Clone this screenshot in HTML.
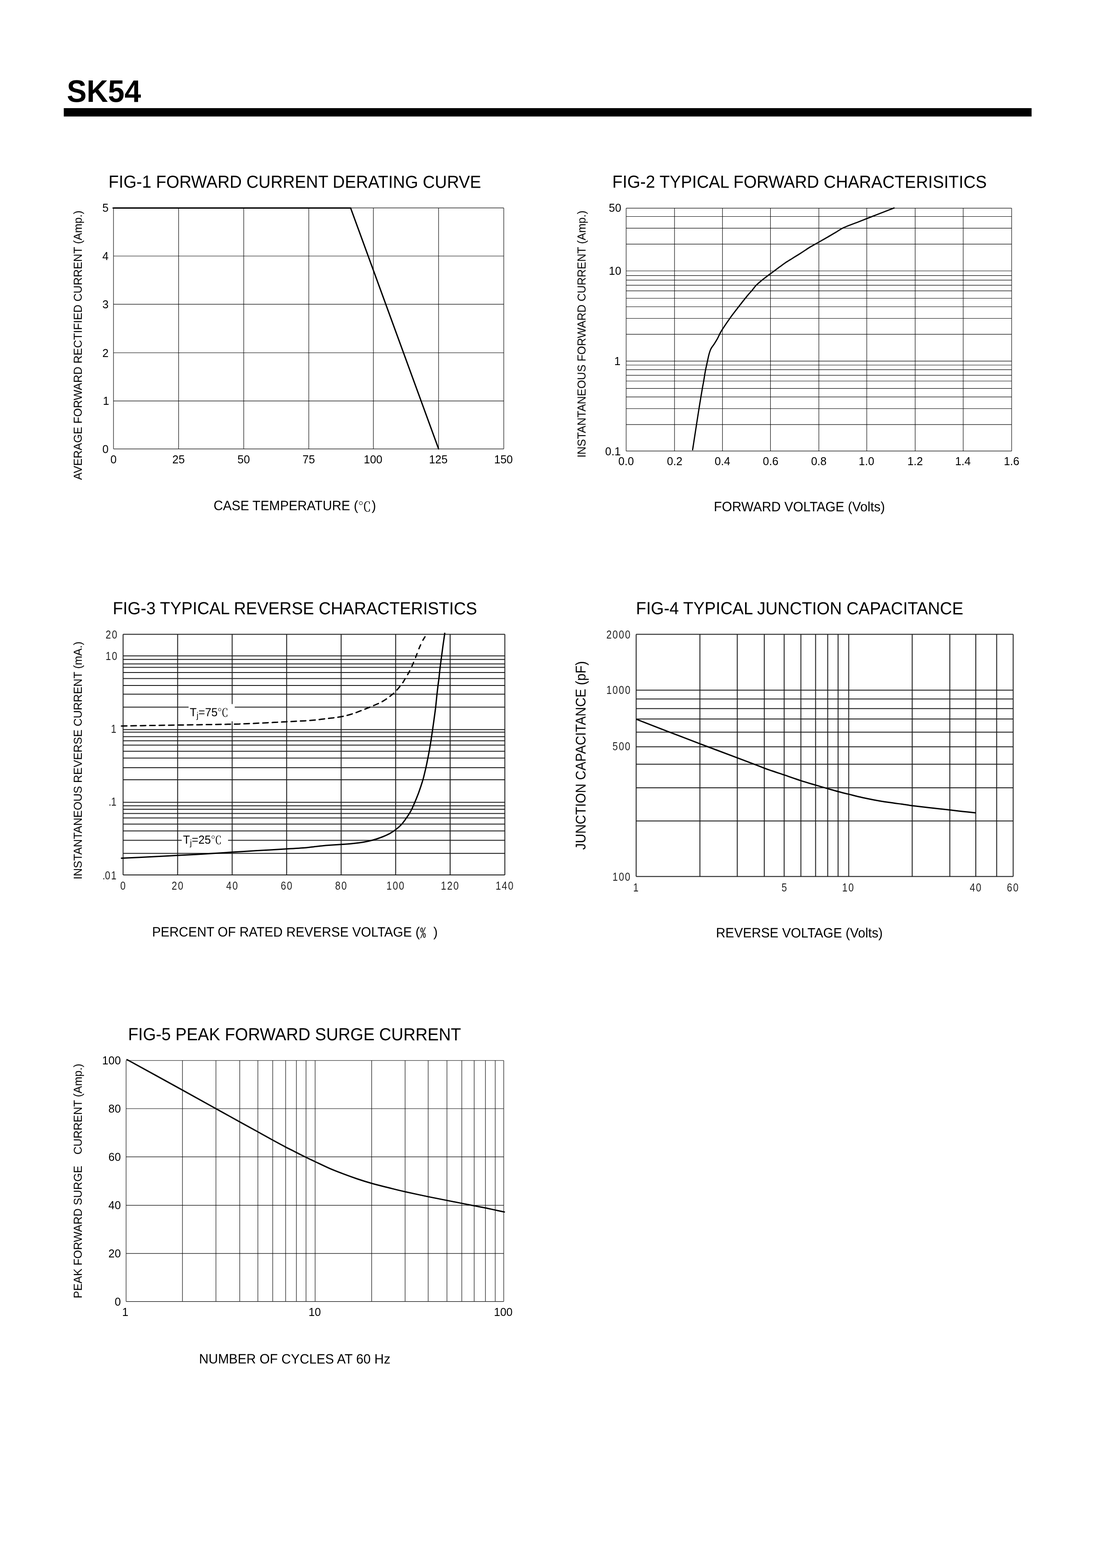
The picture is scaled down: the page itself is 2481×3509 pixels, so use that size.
<!DOCTYPE html>
<html lang="en">
<head>
<meta charset="utf-8">
<title>SK54</title>
<style>
html,body{margin:0;padding:0;background:#fff;}
body{width:2481px;height:3509px;overflow:hidden;}
svg{display:block;position:absolute;left:0;top:0;}
text{font-family:"Liberation Sans",sans-serif;fill:#000;white-space:pre;}
.b{font-weight:bold;}
.cjk{font-family:"Noto Serif CJK SC","Liberation Serif",serif;}
.hw{font-family:"IPAGothic","Liberation Sans",sans-serif;}
.tk3{fill:#222;letter-spacing:2.3px;}
.g1{fill:none;stroke:#0c0c0c;stroke-width:1.15;}
.g3{fill:none;stroke:#1c1c1c;stroke-width:2;}
.cv{fill:none;stroke:#000;stroke-width:3;stroke-linejoin:miter;stroke-linecap:round;}
.cv2{fill:none;stroke:#000;stroke-width:2.8;stroke-linejoin:round;stroke-linecap:round;}
.cv3{fill:none;stroke:#000;stroke-width:3;stroke-linejoin:round;stroke-linecap:round;}
.cv4{fill:none;stroke:#000;stroke-width:3;stroke-linejoin:round;stroke-linecap:butt;}
.cvd{fill:none;stroke:#000;stroke-width:3;stroke-linejoin:round;stroke-linecap:round;}
</style>
</head>
<body>
<svg width="2481" height="3509" viewBox="0 0 2481 3509">
<rect x="0" y="0" width="2481" height="3509" fill="#fff"/>
<text class="b" transform="translate(149.40 228.06) rotate(0.03) scale(0.9512 1)" font-size="69.8">SK54</text>
<rect x="142.7" y="242" width="2165.1" height="18.7" fill="#000"/>
<g id="fig1">
<text transform="translate(242.83 420.08) rotate(0.03) scale(0.9570 1)" font-size="39.2">FIG-1 FORWARD CURRENT DERATING CURVE</text>
<path class="g1" d="M253.90 465.40V1004.60M399.60 465.40V1004.60M545.30 465.40V1004.60M690.80 465.40V1004.60M835.30 465.40V1004.60M981.20 465.40V1004.60M1127.00 465.40V1004.60M253.90 465.40H1127.00M253.90 573.00H1127.00M253.90 680.90H1127.00M253.90 789.50H1127.00M253.90 897.30H1127.00M253.90 1004.60H1127.00"/>
<polyline class="cv" points="253.0,465.4 784.4,465.4 981.2,1004.6"/>
<text transform="translate(228.90 474.40)" font-size="25">5</text>
<text transform="translate(228.90 582.00)" font-size="25">4</text>
<text transform="translate(228.90 689.90)" font-size="25">3</text>
<text transform="translate(228.90 798.50)" font-size="25">2</text>
<text transform="translate(230.20 906.30)" font-size="25">1</text>
<text transform="translate(228.90 1013.60)" font-size="25">0</text>
<text transform="translate(246.90 1036.50)" font-size="25">0</text>
<text transform="translate(385.60 1036.50)" font-size="25">25</text>
<text transform="translate(531.30 1036.50)" font-size="25">50</text>
<text transform="translate(676.80 1036.50)" font-size="25">75</text>
<text transform="translate(813.80 1036.50)" font-size="25">100</text>
<text transform="translate(959.70 1036.50)" font-size="25">125</text>
<text transform="translate(1105.50 1036.50)" font-size="25">150</text>
<text transform="translate(182.90 1073.90) rotate(-90) scale(0.9568 1)" font-size="26.12">AVERAGE FORWARD RECTIFIED CURRENT (Amp.)</text>
<text transform="translate(477.68 1141.62) rotate(0.03) scale(0.9594 1)" font-size="30.45">CASE TEMPERATURE (<tspan class="cjk" font-size="30.2" x="337.19" y="2.90">℃</tspan><tspan x="368.83" y="0.00">)</tspan></text>
</g>
<g id="fig2">
<text transform="translate(1369.83 420.08) rotate(0.03) scale(0.9568 1)" font-size="39.2">FIG-2 TYPICAL FORWARD CHARACTERISITICS</text>
<path class="g1" d="M1400.80 465.90V1009.40M1509.00 465.90V1009.40M1616.30 465.90V1009.40M1723.60 465.90V1009.40M1831.90 465.90V1009.40M1939.10 465.90V1009.40M2047.40 465.90V1009.40M2154.80 465.90V1009.40M2263.20 465.90V1009.40M1400.80 465.90H2263.20M1400.80 484.50H2263.20M1400.80 510.60H2263.20M1400.80 546.40H2263.20M1400.80 606.20H2263.20M1400.80 616.60H2263.20M1400.80 626.90H2263.20M1400.80 638.30H2263.20M1400.80 650.90H2263.20M1400.80 667.50H2263.20M1400.80 686.50H2263.20M1400.80 712.50H2263.20M1400.80 748.10H2263.20M1400.80 808.10H2263.20M1400.80 817.00H2263.20M1400.80 827.30H2263.20M1400.80 839.90H2263.20M1400.80 852.70H2263.20M1400.80 869.40H2263.20M1400.80 888.30H2263.20M1400.80 914.50H2263.20M1400.80 950.10H2263.20M1400.80 1009.40H2263.20"/>
<path class="cv2" d="M1549.5 1006.5C1551.0 997.1 1555.8 965.5 1558.2 950.1C1560.6 934.7 1562.2 924.4 1563.8 914.1C1565.4 903.9 1566.8 896.1 1568.0 888.6C1569.2 881.1 1570.2 875.4 1571.2 869.4C1572.2 863.4 1573.5 857.6 1574.3 852.7C1575.1 847.8 1575.6 844.4 1576.3 840.1C1577.0 835.9 1577.8 831.1 1578.6 827.2C1579.3 823.4 1580.1 820.2 1580.8 817.0C1581.5 813.8 1582.0 811.3 1582.8 807.8C1583.6 804.3 1584.5 799.5 1585.4 795.8C1586.3 792.1 1587.4 788.4 1588.4 785.6C1589.4 782.8 1589.9 781.5 1591.5 778.8C1593.1 776.1 1595.8 773.0 1598.0 769.5C1600.2 766.0 1603.0 761.5 1605.0 757.9C1607.0 754.3 1608.2 751.2 1610.0 747.7C1611.8 744.2 1612.2 743.0 1616.1 737.0C1620.0 731.0 1627.2 720.2 1633.3 711.7C1639.4 703.2 1646.3 694.5 1652.7 686.2C1659.1 677.9 1666.9 668.0 1671.8 662.0C1676.7 656.0 1678.9 654.1 1682.2 650.1C1685.5 646.1 1688.1 642.1 1691.8 638.3C1695.5 634.5 1700.1 630.8 1704.4 627.2C1708.7 623.6 1714.5 619.4 1717.7 616.9C1721.0 614.4 1721.4 614.2 1723.9 612.4C1726.4 610.6 1728.8 608.8 1732.5 606.1C1736.2 603.4 1741.6 599.3 1745.8 596.2C1750.0 593.1 1753.2 590.7 1757.6 587.7C1762.0 584.7 1767.5 581.5 1772.4 578.4C1777.3 575.3 1782.3 572.3 1787.2 569.2C1792.1 566.1 1798.1 562.2 1802.0 559.6C1805.9 557.0 1807.6 555.7 1810.8 553.7C1814.0 551.7 1817.7 549.8 1821.2 547.8C1824.7 545.8 1826.6 544.8 1831.8 541.9C1837.0 539.0 1845.8 534.0 1852.2 530.3C1858.6 526.6 1864.1 523.3 1870.0 519.8C1875.9 516.3 1879.4 513.1 1887.7 509.3C1896.0 505.5 1908.0 501.4 1920.0 496.7C1932.0 492.0 1946.6 486.2 1960.0 481.0C1973.4 475.8 1993.5 468.0 2000.2 465.4"/>
<text transform="translate(1362.00 474.30)" font-size="25">50</text>
<text transform="translate(1362.00 615.40)" font-size="25">10</text>
<text transform="translate(1374.20 816.70)" font-size="25">1</text>
<text transform="translate(1353.80 1018.70)" font-size="25">0.1</text>
<text transform="translate(1383.30 1041.40)" font-size="25">0.0</text>
<text transform="translate(1492.00 1041.40)" font-size="25">0.2</text>
<text transform="translate(1598.80 1041.40)" font-size="25">0.4</text>
<text transform="translate(1706.60 1041.40)" font-size="25">0.6</text>
<text transform="translate(1814.40 1041.40)" font-size="25">0.8</text>
<text transform="translate(1921.10 1041.40)" font-size="25">1.0</text>
<text transform="translate(2029.90 1041.40)" font-size="25">1.2</text>
<text transform="translate(2136.80 1041.40)" font-size="25">1.4</text>
<text transform="translate(2245.70 1041.40)" font-size="25">1.6</text>
<text transform="translate(1309.60 1024.11) rotate(-90) scale(0.9553 1)" font-size="26.12">INSTANTANEOUS FORWARD CURRENT (Amp.)</text>
<text transform="translate(1597.12 1144.10) rotate(0.03) scale(0.9611 1)" font-size="30.45">FORWARD VOLTAGE (Volts)</text>
</g>
<g id="fig3">
<text transform="translate(252.13 1374.49) rotate(0.03) scale(0.9576 1)" font-size="39.2">FIG-3 TYPICAL REVERSE CHARACTERISTICS</text>
<path class="g3" d="M275.40 1419.40V1958.10M397.40 1419.40V1958.10M519.40 1419.40V1958.10M641.30 1419.40V1958.10M763.20 1419.40V1958.10M885.20 1419.40V1958.10M1007.00 1419.40V1958.10M1129.40 1419.40V1958.10M275.40 1419.40H1129.40M275.40 1467.80H1129.40M275.40 1475.80H1129.40M275.40 1485.70H1129.40M275.40 1493.50H1129.40M275.40 1504.90H1129.40M275.40 1518.40H1129.40M275.40 1533.90H1129.40M275.40 1553.50H1129.40M275.40 1582.60H1129.40M275.40 1632.70H1129.40M275.40 1638.50H1129.40M275.40 1648.40H1129.40M275.40 1657.70H1129.40M275.40 1667.60H1129.40M275.40 1681.20H1129.40M275.40 1696.40H1129.40M275.40 1717.90H1129.40M275.40 1745.10H1129.40M275.40 1795.40H1129.40M275.40 1803.20H1129.40M275.40 1811.00H1129.40M275.40 1820.50H1129.40M275.40 1830.60H1129.40M275.40 1844.20H1129.40M275.40 1859.40H1129.40M275.40 1880.60H1129.40M275.40 1909.70H1129.40M275.40 1958.10H1129.40"/>
<rect x="421.9" y="1575.6" width="103.3" height="38.6" fill="#fff"/>
<rect x="406.6" y="1866" width="103.6" height="28" fill="#fff"/>
<path class="cvd" d="M271.7 1624.7L273.4 1624.7L283.9 1624.5M292.8 1624.3L294.5 1624.3L305.0 1624.1M313.9 1624.0L316.7 1623.9L326.1 1623.8M334.9 1623.6L338.1 1623.6L347.1 1623.4M356.0 1623.3L356.4 1623.3L368.2 1623.1M377.1 1622.9L378.0 1622.9L389.3 1622.7M398.2 1622.6L401.0 1622.5L410.4 1622.4M419.2 1622.3L420.2 1622.2L431.4 1622.1M440.3 1621.9L443.3 1621.9L452.5 1621.8M461.4 1621.6L462.9 1621.6L473.6 1621.4M482.5 1621.3L484.8 1621.3L494.7 1621.1M503.5 1620.9L504.6 1620.9L515.7 1620.7M524.6 1620.5L525.5 1620.4L536.0 1620.2L536.8 1620.1M545.7 1619.8L545.9 1619.8L553.0 1619.5L557.9 1619.3M566.8 1618.9L567.0 1618.9L575.3 1618.5L578.9 1618.3M587.8 1617.9L588.0 1617.9L598.1 1617.4L600.0 1617.3M608.9 1616.9L610.1 1616.8L620.3 1616.3L621.0 1616.2M629.9 1615.8L630.2 1615.8L639.5 1615.3L642.1 1615.1M651.0 1614.7L651.2 1614.7L659.7 1614.3L663.1 1614.1M672.0 1613.6L673.2 1613.6L680.8 1613.2L684.2 1613.0M693.1 1612.3L693.7 1612.3L700.0 1611.8L705.2 1611.3M714.0 1610.3L714.6 1610.2L719.5 1609.6L724.5 1608.9L726.1 1608.7M735.0 1607.7L735.7 1607.6L740.9 1607.0L746.1 1606.4L747.0 1606.2M755.9 1605.1L756.1 1605.0L760.7 1604.3L765.2 1603.5L767.8 1603.0M776.5 1600.9L777.1 1600.8L780.8 1599.8L784.4 1598.7L788.1 1597.6M796.7 1594.7L796.9 1594.6L800.6 1593.2L804.3 1591.7L807.7 1590.4M816.3 1587.0L816.4 1587.0L818.4 1586.2L820.2 1585.5L822.2 1584.7L824.4 1583.8L827.2 1582.6L827.2 1582.6M835.8 1579.0L836.0 1578.9L840.3 1577.1L844.7 1575.2L846.5 1574.3M854.9 1570.2L855.4 1569.9L858.5 1568.1L861.3 1566.3L863.9 1564.6L864.6 1564.1M872.3 1558.3L872.7 1558.0L874.8 1556.4L876.9 1554.7L878.9 1553.1L880.8 1551.4L880.9 1551.3M887.9 1544.2L888.2 1543.8L890.7 1540.9L893.1 1538.0L894.6 1536.2M901.1 1527.7L901.1 1527.6L902.2 1526.1L903.0 1524.7L903.7 1523.5L904.3 1522.4L905.0 1521.2L905.7 1519.9L906.2 1519.1M911.9 1509.6L912.0 1509.5L912.9 1507.9L913.9 1506.3L914.8 1504.6L915.7 1503.0L916.5 1501.5L916.7 1501.1M921.5 1490.9L921.5 1490.9L922.3 1489.2L923.1 1487.4L923.8 1485.6L924.6 1483.9L925.3 1482.3L925.3 1482.2M929.7 1471.5L929.7 1471.3L930.4 1469.6L931.1 1467.9L931.7 1466.1L932.4 1464.4L933.0 1462.8L933.1 1462.7M937.2 1451.8L937.2 1451.7L937.9 1450.1L938.6 1448.4L939.4 1446.7L940.1 1445.1L940.8 1443.5L941.0 1443.1M946.1 1432.7L946.2 1432.5L947.2 1430.8L948.3 1429.1L949.2 1427.5L950.1 1426.2L950.7 1425.1L950.8 1425.0"/>
<path class="cv3" d="M271.7 1920.4C281.6 1920.0 309.9 1918.8 330.9 1917.8C351.9 1916.8 376.2 1915.4 397.5 1914.3C418.8 1913.2 438.1 1912.2 458.4 1911.0C478.7 1909.8 500.2 1908.3 519.1 1907.1C538.0 1905.9 551.4 1905.0 571.8 1903.8C592.1 1902.6 622.3 1900.9 641.2 1899.8C660.1 1898.7 675.0 1897.8 685.2 1897.0C695.4 1896.2 696.4 1895.6 702.2 1894.9C708.0 1894.2 713.7 1893.5 720.0 1892.9C726.3 1892.3 732.8 1891.8 740.0 1891.3C747.2 1890.8 754.9 1890.4 763.0 1889.8C771.1 1889.2 780.5 1888.5 788.7 1887.7C796.9 1886.9 805.0 1886.0 812.4 1884.8C819.8 1883.6 826.2 1882.2 833.1 1880.3C840.0 1878.4 847.4 1876.0 853.8 1873.5C860.2 1871.0 866.3 1868.4 871.5 1865.6C876.7 1862.8 880.8 1860.2 885.2 1856.7C889.7 1853.2 894.3 1849.1 898.2 1844.9C902.1 1840.7 905.0 1836.4 908.5 1831.5C912.0 1826.6 915.7 1821.2 918.9 1815.3C922.1 1809.4 924.8 1803.0 927.7 1796.1C930.7 1789.2 933.6 1782.0 936.6 1773.9C939.6 1765.8 943.2 1754.8 945.5 1747.3C947.8 1739.8 948.8 1734.8 950.2 1729.2C951.6 1723.6 952.6 1719.2 953.7 1713.8C954.9 1708.4 956.0 1702.5 957.1 1697.1C958.2 1691.6 959.2 1686.9 960.2 1681.1C961.2 1675.3 962.5 1667.8 963.4 1662.3C964.3 1656.8 964.8 1653.3 965.5 1648.3C966.2 1643.3 967.0 1638.8 967.9 1632.3C968.8 1625.8 970.0 1617.5 971.1 1609.3C972.2 1601.0 973.5 1592.1 974.6 1582.8C975.7 1573.5 976.7 1561.7 977.6 1553.6C978.5 1545.5 979.2 1539.9 979.9 1534.0C980.6 1528.1 981.3 1523.8 982.0 1518.0C982.6 1512.2 983.3 1505.6 984.0 1499.2C984.7 1492.8 985.5 1486.4 986.4 1479.7C987.3 1473.0 988.3 1465.8 989.2 1458.8C990.1 1451.8 991.0 1444.8 992.0 1437.9C993.0 1431.0 994.5 1420.7 995.0 1417.2"/>
<text class="tk3" transform="translate(236.26 1428.60) scale(0.8600 1)" font-size="25">20</text>
<text class="tk3" transform="translate(236.26 1476.80) scale(0.8600 1)" font-size="25">10</text>
<text class="tk3" transform="translate(248.22 1639.60) scale(0.8600 1)" font-size="25">1</text>
<text class="tk3" transform="translate(243.06 1802.70) scale(0.8600 1)" font-size="25">.<tspan dx="-3">1</tspan></text>
<text class="tk3" transform="translate(229.30 1967.70) scale(0.8600 1)" font-size="25">.<tspan dx="-3">01</tspan></text>
<text class="tk3" transform="translate(268.88 1990.90) scale(0.8600 1)" font-size="25">0</text>
<text class="tk3" transform="translate(384.00 1990.90) scale(0.8600 1)" font-size="25">20</text>
<text class="tk3" transform="translate(506.00 1990.90) scale(0.8600 1)" font-size="25">40</text>
<text class="tk3" transform="translate(627.90 1990.90) scale(0.8600 1)" font-size="25">60</text>
<text class="tk3" transform="translate(749.80 1990.90) scale(0.8600 1)" font-size="25">80</text>
<text class="tk3" transform="translate(864.49 1990.90) scale(0.8600 1)" font-size="25">100</text>
<text class="tk3" transform="translate(986.29 1990.90) scale(0.8600 1)" font-size="25">120</text>
<text class="tk3" transform="translate(1108.69 1990.90) scale(0.8600 1)" font-size="25">140</text>
<text transform="translate(183.10 1967.92) rotate(-90) scale(0.9582 1)" font-size="26.12">INSTANTANEOUS REVERSE CURRENT (mA.)</text>
<text transform="translate(340.13 2095.74) rotate(0.03) scale(0.9582 1)" font-size="30.45">PERCENT OF RATED REVERSE VOLTAGE (<tspan class="hw" font-size="27.5" x="625.67" y="1.60">%</tspan><tspan x="648.25" y="0.00"> )</tspan></text>
<text transform="translate(424.43 1602.68) rotate(0.03) scale(0.9661 1)" font-size="26.1">T<tspan font-size="19" dy="4.5">j</tspan><tspan dy="-4.5">=75</tspan><tspan class="cjk" font-size="25.6" x="64.11" y="1.30">℃</tspan></text>
<text transform="translate(409.53 1887.98) rotate(0.03) scale(0.9661 1)" font-size="26.1">T<tspan font-size="19" dy="4.5">j</tspan><tspan dy="-4.5">=25</tspan><tspan class="cjk" font-size="25.6" x="64.11" y="1.30">℃</tspan></text>
</g>
<g id="fig4">
<text transform="translate(1422.73 1374.51) rotate(0.03) scale(0.9571 1)" font-size="39.2">FIG-4 TYPICAL JUNCTION CAPACITANCE</text>
<path class="g3" d="M1423.20 1419.50V1961.60M1565.80 1419.50V1961.60M1649.40 1419.50V1961.60M1709.80 1419.50V1961.60M1754.30 1419.50V1961.60M1791.70 1419.50V1961.60M1824.60 1419.50V1961.60M1851.70 1419.50V1961.60M1874.90 1419.50V1961.60M1898.70 1419.50V1961.60M2040.70 1419.50V1961.60M2124.90 1419.50V1961.60M2183.00 1419.50V1961.60M2229.70 1419.50V1961.60M2266.60 1419.50V1961.60M1423.20 1419.50H2266.60M1423.20 1544.40H2266.60M1423.20 1564.20H2266.60M1423.20 1585.70H2266.60M1423.20 1609.10H2266.60M1423.20 1638.40H2266.60M1423.20 1671.30H2266.60M1423.20 1710.30H2266.60M1423.20 1763.00H2266.60M1423.20 1837.30H2266.60M1423.20 1961.60H2266.60"/>
<path class="cv4" d="M1423.7 1609.6C1436.0 1614.4 1473.9 1629.2 1497.6 1638.3C1521.2 1647.4 1540.3 1654.7 1565.6 1664.3C1590.9 1673.9 1629.1 1688.3 1649.3 1695.9C1669.5 1703.5 1676.8 1706.2 1686.9 1710.1C1697.0 1713.9 1702.8 1716.4 1709.7 1719.0C1716.6 1721.6 1720.8 1722.9 1728.3 1725.5C1735.8 1728.1 1744.3 1730.8 1754.9 1734.4C1765.5 1738.0 1780.3 1743.3 1791.9 1747.1C1803.5 1750.8 1814.4 1753.9 1824.4 1756.9C1834.4 1759.9 1843.4 1762.5 1851.9 1764.9C1860.4 1767.3 1867.7 1769.4 1875.5 1771.5C1883.3 1773.6 1889.7 1775.2 1898.6 1777.4C1907.5 1779.6 1918.8 1782.6 1928.7 1784.8C1938.7 1787.0 1948.4 1788.9 1958.3 1790.7C1968.2 1792.5 1978.0 1794.0 1987.9 1795.5C1997.8 1797.0 2008.7 1798.4 2017.5 1799.6C2026.3 1800.8 2030.7 1801.6 2040.5 1802.9C2050.3 1804.2 2062.6 1805.7 2076.6 1807.3C2090.6 1808.9 2111.7 1811.2 2124.5 1812.6C2137.3 1814.0 2143.9 1814.8 2153.5 1815.9C2163.1 1817.0 2177.4 1818.6 2182.2 1819.1"/>
<text class="tk3" transform="translate(1356.44 1428.80) scale(0.8600 1)" font-size="25">2000</text>
<text class="tk3" transform="translate(1356.44 1553.40) scale(0.8600 1)" font-size="25">1000</text>
<text class="tk3" transform="translate(1370.20 1679.00) scale(0.8600 1)" font-size="25">500</text>
<text class="tk3" transform="translate(1370.20 1971.40) scale(0.8600 1)" font-size="25">100</text>
<text class="tk3" transform="translate(1416.55 1994.50) scale(0.8600 1)" font-size="25">1</text>
<text class="tk3" transform="translate(1748.48 1994.50) scale(0.8600 1)" font-size="25">5</text>
<text class="tk3" transform="translate(1884.07 1994.50) scale(0.8600 1)" font-size="25">10</text>
<text class="tk3" transform="translate(2169.40 1994.50) scale(0.8600 1)" font-size="25">40</text>
<text class="tk3" transform="translate(2252.50 1994.50) scale(0.8600 1)" font-size="25">60</text>
<text transform="translate(1310.10 1901.66) rotate(-90) scale(0.9626 1)" font-size="30.45">JUNCTION CAPACITANCE (pF)</text>
<text transform="translate(1601.71 2097.80) rotate(0.03) scale(0.9621 1)" font-size="30.45">REVERSE VOLTAGE (Volts)</text>
</g>
<g id="fig5">
<text transform="translate(286.43 2327.81) rotate(0.03) scale(0.9559 1)" font-size="39.2">FIG-5 PEAK FORWARD SURGE CURRENT</text>
<path class="g1" d="M282.10 2373.20V2912.60M408.20 2373.20V2912.60M483.10 2373.20V2912.60M536.40 2373.20V2912.60M576.90 2373.20V2912.60M610.10 2373.20V2912.60M639.00 2373.20V2912.60M663.10 2373.20V2912.60M684.60 2373.20V2912.60M705.00 2373.20V2912.60M831.50 2373.20V2912.60M906.30 2373.20V2912.60M957.90 2373.20V2912.60M999.90 2373.20V2912.60M1033.10 2373.20V2912.60M1060.80 2373.20V2912.60M1086.00 2373.20V2912.60M1107.90 2373.20V2912.60M1126.90 2373.20V2912.60M282.10 2373.20H1126.90M282.10 2481.00H1126.90M282.10 2588.80H1126.90M282.10 2697.40H1126.90M282.10 2805.10H1126.90M282.10 2912.60H1126.90"/>
<path class="cv" d="M284.1 2371.3C304.8 2382.7 375.2 2421.3 408.4 2439.6C441.6 2457.9 461.8 2469.3 483.1 2481.1C504.4 2492.9 520.7 2502.0 536.3 2510.6C551.9 2519.2 564.3 2526.0 576.6 2532.8C588.9 2539.6 599.5 2545.6 609.9 2551.3C620.2 2557.0 630.4 2562.4 638.7 2566.8C647.1 2571.2 652.4 2573.7 660.0 2577.6C667.6 2581.5 677.1 2586.3 684.6 2590.0C692.1 2593.7 696.0 2595.4 704.7 2599.5C713.4 2603.6 726.5 2610.0 737.0 2614.6C747.5 2619.2 757.5 2623.0 767.8 2626.9C778.1 2630.8 788.0 2634.4 798.6 2638.0C809.2 2641.6 819.8 2644.9 831.6 2648.2C843.4 2651.5 857.0 2654.9 869.5 2658.0C882.0 2661.1 891.7 2663.7 906.5 2667.0C921.3 2670.3 942.7 2674.9 958.2 2678.1C973.8 2681.3 987.4 2683.9 999.8 2686.4C1012.2 2688.9 1022.7 2690.9 1032.8 2692.9C1042.9 2694.9 1051.6 2696.7 1060.5 2698.4C1069.4 2700.1 1078.6 2701.7 1086.4 2703.3C1094.2 2704.9 1100.6 2706.4 1107.6 2707.9C1114.6 2709.4 1124.8 2711.6 1128.3 2712.3"/>
<text transform="translate(228.60 2382.20)" font-size="25">100</text>
<text transform="translate(242.60 2490.00)" font-size="25">80</text>
<text transform="translate(242.60 2597.80)" font-size="25">60</text>
<text transform="translate(242.60 2706.40)" font-size="25">40</text>
<text transform="translate(242.60 2814.10)" font-size="25">20</text>
<text transform="translate(256.60 2921.60)" font-size="25">0</text>
<text transform="translate(273.30 2944.60)" font-size="25">1</text>
<text transform="translate(690.20 2944.60)" font-size="25">10</text>
<text transform="translate(1105.00 2944.60)" font-size="25">100</text>
<text transform="translate(182.60 2905.51) rotate(-90) scale(0.9567 1)" font-size="26.12">PEAK FORWARD SURGE   <tspan x="336.22" y="0.00">CURRENT (Amp.)</tspan></text>
<text transform="translate(445.20 3051.29) rotate(0.03) scale(0.9654 1)" font-size="30.45">NUMBER OF CYCLES AT 60 Hz</text>
</g>
</svg>
</body>
</html>
